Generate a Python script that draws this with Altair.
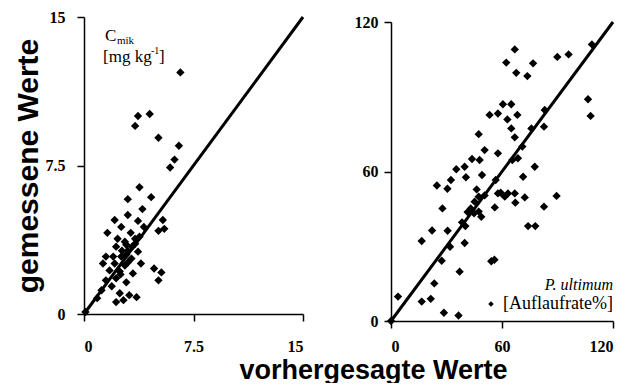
import altair as alt
import pandas as pd

# ---- data ----
left_pred = [0.1, 1.2, 6.6, 3.7, 4.5, 3.5, 5.1, 6.5, 6.2, 5.9, 3.8, 4.6, 3.0, 4.0, 3.0, 2.1, 3.7,
             2.55, 5.4, 5.5, 5.1, 1.6, 3.2, 2.3, 3.5, 2.8, 3.5, 2.9, 2.2, 3.0, 3.7, 2.9, 1.5, 2.55,
             3.25, 1.3, 2.1, 2.8, 3.9, 4.8, 5.3, 1.75, 2.45, 3.35, 5.1, 1.5, 2.2, 2.9, 1.9, 2.45,
             3.1, 3.6, 2.7, 2.2, 2.5, 3.0, 3.3, 2.6, 3.8, 4.1, 2.0, 0.9]
left_meas = [0.1, 1.2, 12.2, 10.0, 10.1, 9.5, 8.9, 8.5, 7.8, 7.4, 6.4, 5.9, 5.8, 5.3, 5.0, 4.75, 4.7,
             4.4, 4.75, 4.3, 4.2, 4.1, 4.1, 3.8, 3.8, 3.65, 3.55, 3.5, 3.4, 3.2, 3.15, 3.0, 2.9, 2.9,
             2.8, 2.55, 2.55, 2.45, 2.55, 2.3, 2.1, 2.2, 2.15, 2.05, 1.7, 1.7, 1.8, 1.6, 1.4, 1.05,
             0.95, 0.85, 0.7, 0.6, 2.0, 2.6, 3.4, 3.2, 3.9, 4.4, 2.9, 0.8]

right_pred = [0, 3.8, 16.6, 21.5, 23.4, 28.6, 36.5, 37.1, 27.4, 16.6, 22.2, 30.6, 31.9, 39.8, 38.4,
              40.2, 41.4, 44.9, 47.4, 48.8, 27.8, 24.8, 30.5, 32.4, 35.3, 39.8, 40.5, 43.8, 47.9,
              47.4, 50.6, 49.2, 46.3, 47.4, 50.6, 45.2, 43.1, 56.1, 56.6, 57.8, 57.8, 59.3, 61.5,
              63.2, 66.9, 67.2, 72.3, 71.4, 65.6, 68.6, 71.0, 77.7, 74.1, 78.0, 82.7, 89.5, 54.2,
              55.9, 53.3, 57.8, 60.5, 65.0, 62.9, 68.3, 65.0, 66.9, 75.9, 82.7, 83.1, 62.3, 66.9,
              67.7, 73.7, 76.8, 89.9, 96.0, 108.6, 106.5, 107.9]
right_meas = [0, 9.8, 7.8, 8.9, 15.1, 3.3, 2.2, 19.8, 24.2, 32.1, 36.3, 36.2, 29.8, 31.3, 39.6,
              38.1, 43.7, 43.2, 43.9, 41.8, 45.2, 54.4, 53.1, 56.6, 60.9, 61.9, 57.7, 65.0, 64.6,
              75.0, 68.6, 58.6, 52.8, 49.9, 50.4, 47.9, 45.2, 45.6, 56.6, 67.3, 51.2, 51.5, 49.9,
              51.2, 51.2, 47.5, 49.6, 57.9, 64.6, 65.3, 70.0, 61.9, 38.1, 38.1, 45.9, 50.2, 24.0,
              24.6, 82.7, 83.3, 87.0, 87.0, 80.9, 82.7, 77.3, 73.7, 77.3, 78.0, 84.7, 103.7, 109.0,
              99.6, 98.3, 103.4, 106.0, 107.0, 111.0, 89.0, 82.3]

fit_left = [0, 15]
fit_right = [0, 120]
left_ticks = [0, 7.5, 15]
right_ticks = [0, 60, 120]

SERIF = "Liberation Serif"
SANS = "Liberation Sans"

LW, LH = 219, 297
RW, RH = 222, 304


def scatter(px, py):
    return alt.Chart(pd.DataFrame({"x": px, "y": py})).mark_point(
        shape="diamond", filled=True, color="black", opacity=1, size=70)


def fitline(v):
    return alt.Chart(pd.DataFrame({"x": v, "y": v})).mark_line(color="black", strokeWidth=3)


def txt(s, x, y, size=17, align="left", style="normal"):
    return alt.Chart(pd.DataFrame({"t": [s]})).mark_text(
        font=SERIF, fontSize=size, align=align, baseline="middle", fontStyle=style,
        color="black").encode(text="t:N", x=alt.value(x), y=alt.value(y))


# ---- left panel ----
lx = alt.X("x:Q", scale=alt.Scale(domain=[0, 15], nice=False, zero=False),
           axis=alt.Axis(values=left_ticks, format=".2~f", labelPadding=17,
                         title="vorhergesagte Werte", titleFont=SANS, titleFontSize=27,
                         titleFontWeight="bold", titleX=289, titleY=56,
                         titleBaseline="middle", titleAlign="center", titleColor="black"))
ly = alt.Y("y:Q", scale=alt.Scale(domain=[0, 15], nice=False, zero=False),
           axis=alt.Axis(values=left_ticks, format=".2~f", labelPadding=12,
                         title="gemessene Werte", titleFont=SANS, titleFontSize=30,
                         titleFontWeight="bold", titleX=-41, titleColor="black"))

left = alt.layer(
    fitline(fit_left).encode(x=lx, y=ly),
    scatter(left_pred, left_meas).encode(x=lx, y=ly),
    txt("C", 21, 19, 17),
    txt("mik", 33, 24, 11),
    txt("[mg kg", 19, 40, 17),
    txt("-1", 67, 34, 10),
    txt("]", 75, 40, 17),
).properties(width=LW, height=LH)

# ---- right panel ----
rx = alt.X("x:Q", scale=alt.Scale(domain=[0, 120], nice=False, zero=False),
           axis=alt.Axis(values=right_ticks, format=".2~f", labelPadding=10, title=None))
ry = alt.Y("y:Q", scale=alt.Scale(domain=[0, 120], nice=False, zero=False, range=[RH, 5]),
           axis=alt.Axis(values=right_ticks, format=".2~f", labelPadding=6, title=None))

legend_pt = alt.Chart(pd.DataFrame({"k": [1]})).mark_point(
    shape="diamond", filled=True, color="black", opacity=1, size=30).encode(
    x=alt.value(100), y=alt.value(287))

right = alt.layer(
    fitline(fit_right).encode(x=rx, y=ry),
    scatter(right_pred, right_meas).encode(x=rx, y=ry),
    txt("P. ultimum", 222, 268, 16, align="right", style="italic"),
    txt("[Auflaufrate%]", 222, 287, 18, align="right"),
    legend_pt,
).properties(width=RW, height=RH)

chart = alt.hconcat(left, right, spacing=88, bounds="flush").properties(
    padding={"left": 4, "top": 1, "right": 0, "bottom": 0}
).configure(background="white").configure_axis(
    domainColor="black", domainWidth=1.5, tickColor="black", tickWidth=1.5, tickSize=7,
    labelFont=SERIF, labelFontSize=16, labelFontWeight="bold", labelColor="black", grid=False
).configure_view(stroke=None)

chart.save("out.html", embed_options={"renderer": "svg", "actions": False})
